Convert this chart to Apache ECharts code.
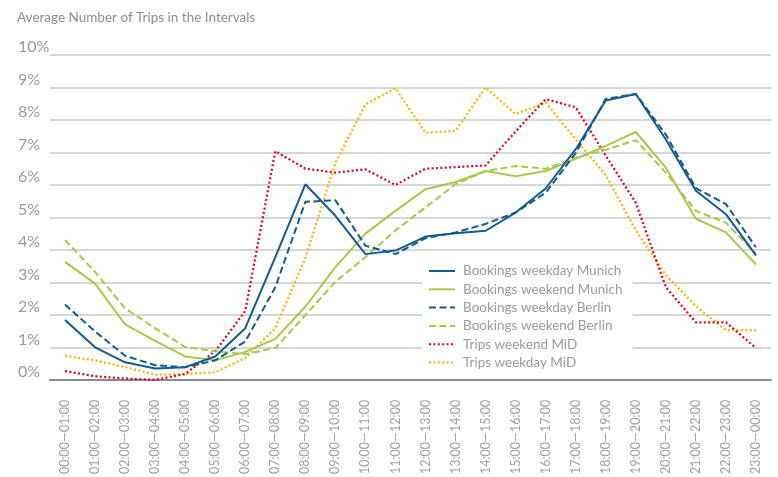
<!DOCTYPE html>
<html>
<head>
<meta charset="utf-8">
<script src="https://cdn.jsdelivr.net/npm/echarts@6/dist/echarts.min.js"></script>
<style>
html,body{margin:0;padding:0;background:#fff;}
#chart{width:778px;height:477px;}
</style>
</head>
<body>
<div id="chart"></div>
<script>
const categories = ["00:00—01:00","01:00—02:00","02:00—03:00","03:00—04:00","04:00—05:00","05:00—06:00","06:00—07:00","07:00—08:00","08:00—09:00","09:00—10:00","10:00—11:00","11:00—12:00","12:00—13:00","13:00—14:00","14:00—15:00","15:00—16:00","16:00—17:00","17:00—18:00","18:00—19:00","19:00—20:00","20:00—21:00","21:00—22:00","22:00—23:00","23:00—00:00"];
const munichWeekday = [1.84, 1.0, 0.54, 0.35, 0.39, 0.72, 1.59, 3.78, 6.02, 5.05, 3.87, 3.98, 4.41, 4.51, 4.59, 5.15, 5.89, 7.1, 8.6, 8.8, 7.4, 5.82, 5.1, 3.83];
const munichWeekend = [3.63, 2.96, 1.71, 1.2, 0.72, 0.6, 0.86, 1.26, 2.25, 3.47, 4.5, 5.2, 5.87, 6.09, 6.43, 6.27, 6.43, 6.8, 7.2, 7.63, 6.53, 4.96, 4.54, 3.55];
const berlinWeekday = [2.32, 1.49, 0.74, 0.45, 0.39, 0.6, 1.18, 2.85, 5.48, 5.53, 4.13, 3.87, 4.36, 4.54, 4.8, 5.15, 5.76, 6.98, 8.65, 8.8, 7.55, 5.9, 5.41, 4.08];
const berlinWeekend = [4.31, 3.32, 2.2, 1.59, 1.01, 0.88, 0.79, 0.98, 1.99, 3.02, 3.78, 4.6, 5.31, 6.02, 6.43, 6.58, 6.5, 6.84, 7.08, 7.38, 6.38, 5.2, 4.84, 3.88];
const tripsWeekend = [0.27, 0.11, 0.04, 0.0, 0.18, 0.88, 2.12, 7.04, 6.5, 6.38, 6.48, 6.0, 6.5, 6.55, 6.6, 7.65, 8.64, 8.39, 6.9, 5.45, 2.85, 1.77, 1.77, 0.98];
const tripsWeekday = [0.74, 0.6, 0.39, 0.16, 0.18, 0.23, 0.67, 1.59, 3.75, 6.68, 8.48, 8.98, 7.6, 7.67, 9.0, 8.18, 8.54, 7.4, 6.3, 4.6, 3.22, 2.27, 1.53, 1.53];
const legendNames = ['Bookings weekday Munich','Bookings weekend Munich','Bookings weekday Berlin','Bookings weekend Berlin','Trips weekend MiD','Trips weekday MiD'];

const BLUE = '#125b8f', GREEN = '#a8c84c', RED = '#e2001a', YELLOW = '#fbb200';
const FONT = 'Lato';

function mk(name, data, color, type){
  const dash = type === 'dashed' ? [7, 3.5] : type === 'dotted' ? [2, 2.4] : 'solid';
  return {
    name, type: 'line', data, symbol: 'none', smooth: false,
    lineStyle: {color, width: type === 'dotted' ? 2.2 : 2, type: dash},
    itemStyle: {color},
    emphasis: {disabled: true}
  };
}

const chart = echarts.init(document.getElementById('chart'), null, {renderer: 'canvas'});
chart.setOption({
  animation: false,
  backgroundColor: '#fff',
  title: {
    text: 'Average Number of Trips in the Intervals',
    left: 12, top: 6,
    textStyle: {fontFamily: FONT, fontSize: 13.5, fontWeight: 'normal', color: '#8c8c8c'}
  },
  grid: {left: 50, right: 7, top: 55, bottom: 94.5, containLabel: false},
  xAxis: {
    type: 'category', data: categories, boundaryGap: true,
    axisLine: {show: true, lineStyle: {color: '#8a8a8a', width: 2}},
    axisTick: {show: false},
    axisLabel: {rotate: 90, margin: 20, color: '#a0a0a0', fontFamily: FONT, fontSize: 12.5, interval: 0}
  },
  yAxis: {
    type: 'value', min: 0, max: 10, interval: 1,
    axisLine: {show: false}, axisTick: {show: false},
    axisLabel: {formatter: '{value}%', align: 'left', verticalAlign: 'bottom', margin: 32,
      color: '#9a9a9a', fontFamily: FONT, fontSize: 16, lineHeight: 16},
    splitLine: {lineStyle: {color: '#c8c8c8', width: 1.5}}
  },
  legend: {
    orient: 'vertical', left: 422, top: 262,
    backgroundColor: '#fff', padding: [2, 10, 4, 6],
    itemWidth: 26, itemHeight: 10, itemGap: 4.3,
    itemStyle: {opacity: 0},
    textStyle: {fontFamily: FONT, fontSize: 13.5, color: '#9a9a9a', padding: [0, 0, 0, 3]},
    data: legendNames
  },
  series: [
    mk('Trips weekday MiD', tripsWeekday, YELLOW, 'dotted'),
    mk('Trips weekend MiD', tripsWeekend, RED, 'dotted'),
    mk('Bookings weekend Berlin', berlinWeekend, GREEN, 'dashed'),
    mk('Bookings weekend Munich', munichWeekend, GREEN, 'solid'),
    mk('Bookings weekday Berlin', berlinWeekday, BLUE, 'dashed'),
    mk('Bookings weekday Munich', munichWeekday, BLUE, 'solid')
  ]
});
</script>
</body>
</html>
